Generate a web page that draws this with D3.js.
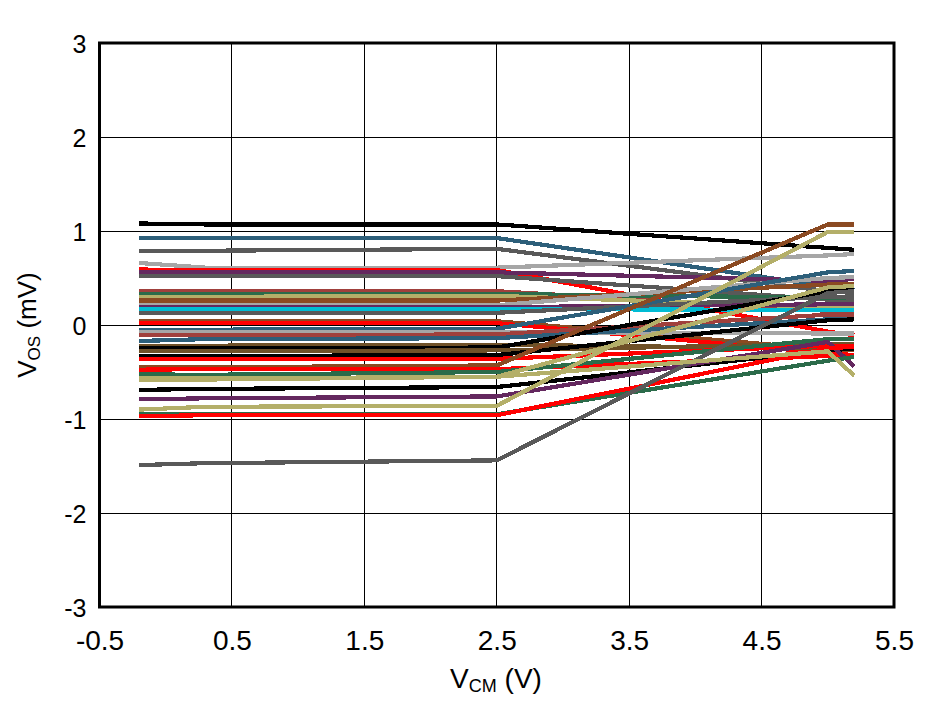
<!DOCTYPE html>
<html><head><meta charset="utf-8">
<script src="https://cdn.jsdelivr.net/npm/d3@7"></script>
<style>body{margin:0;background:#fff;} svg{display:block;}</style>
</head><body>
<svg id="chart" width="938" height="701"></svg>
<script>
// Common-mode voltage sample points (V)
const vcmPoints = [-0.2, 0.3, 2.5, 5.0, 5.2];
// VOS (mV) of each unit at each VCM sample point
const vosAtM02 = [1.08, 0.925, 0.79, 0.66, 0.59, 0.56, 0.52, 0.36, 0.33, 0.30, 0.26, 0.21, 0.19, 0.17, 0.13, 0.04, 0.02, -0.05, -0.08, -0.11, -0.17, -0.22, -0.245, -0.28, -0.33, -0.36, -0.45, -0.475, -0.525, -0.58, -0.69, -0.79, -0.90, -0.95, -0.97, -1.49, -0.57];
const vosAt03  = [1.07, 0.925, 0.79, 0.61, 0.585, 0.56, 0.52, 0.36, 0.33, 0.30, 0.26, 0.21, 0.19, 0.17, 0.13, 0.04, 0.02, -0.05, -0.08, -0.11, -0.15, -0.22, -0.245, -0.28, -0.33, -0.36, -0.45, -0.47, -0.53, -0.58, -0.68, -0.78, -0.87, -0.95, -0.96, -1.47, -0.57];
const vosAt25  = [1.07, 0.925, 0.81, 0.61, 0.585, 0.56, 0.52, 0.36, 0.33, 0.31, 0.26, 0.21, 0.19, 0.17, 0.13, 0.04, 0.02, -0.04, -0.08, -0.10, -0.14, -0.21, -0.24, -0.27, -0.32, -0.36, -0.43, -0.47, -0.50, -0.55, -0.66, -0.76, -0.86, -0.95, -0.96, -1.44, -0.55];
const vosAt50  = [0.82, 0.41, 0.36, 0.74, -0.07, 0.47, 0.27, 0.15, 0.29, 0.19, 0.43, 0.50, 0.22, 0.16, 0.30, -0.26, -0.30, 0.56, -0.09, 0.11, 0.06, -0.25, 0.36, -0.20, 0.05, -0.22, 1.07, -0.33, -0.15, 0.40, -0.27, -0.18, 0.99, -0.38, -0.25, 0.34, -0.28];
const vosAt52  = [0.80, 0.37, 0.34, 0.755, -0.11, 0.49, 0.26, 0.14, 0.295, 0.19, 0.44, 0.51, 0.22, 0.16, 0.30, -0.27, -0.32, 0.575, -0.09, 0.11, 0.06, -0.25, 0.37, -0.20, 0.06, -0.23, 1.07, -0.34, -0.15, 0.415, -0.25, -0.44, 0.99, -0.34, -0.23, 0.36, -0.54];
const lineColors = ["#000000","#2D5F7A","#595959","#A6A6A6","#FF0000","#64285F","#595959","#A0403C","#2B6B4A","#B4AF69","#8B4A22","#A6A6A6","#64285F","#00BCD4","#595959","#8B4A22","#FF0000","#2D5F7A","#A6A6A6","#A0403C","#2D5F7A","#6F5128","#000000","#6F5128","#000000","#FF0000","#8B4A22","#FF0000","#2B6B4A","#B4AF69","#000000","#64285F","#B4AF69","#2B6B4A","#FF0000","#595959","#B4AF69"];
const xTicks = [-0.5, 0.5, 1.5, 2.5, 3.5, 4.5, 5.5];
const yTicks = [-3, -2, -1, 0, 1, 2, 3];

const svg = d3.select("#chart");
const x = d3.scaleLinear().domain([-0.5, 5.5]).range([99.5, 894]);
const y = d3.scaleLinear().domain([-3, 3]).range([607, 43]);

// gridlines
svg.append("g").selectAll("line").data(xTicks).join("line")
  .attr("x1", d => x(d)).attr("x2", d => x(d)).attr("y1", y(3)).attr("y2", y(-3))
  .attr("stroke", "#000").attr("stroke-width", 1).attr("shape-rendering", "crispEdges");
svg.append("g").selectAll("line").data(yTicks).join("line")
  .attr("x1", x(-0.5)).attr("x2", x(5.5)).attr("y1", d => y(d)).attr("y2", d => y(d))
  .attr("stroke", "#000").attr("stroke-width", 1).attr("shape-rendering", "crispEdges");

// series
const series = lineColors.map((c, i) => ({
  color: c,
  pts: [vosAtM02[i], vosAt03[i], vosAt25[i], vosAt50[i], vosAt52[i]].map((v, j) => [vcmPoints[j], v])
}));
const line = d3.line().x(d => x(d[0])).y(d => y(d[1]));
svg.append("g").selectAll("path").data(series).join("path")
  .attr("d", d => line(d.pts)).attr("fill", "none")
  .attr("stroke", d => d.color).attr("stroke-width", 4.2)
  .attr("stroke-linejoin", "miter").attr("shape-rendering", "crispEdges");

// frame
svg.append("rect").attr("x", x(-0.5)).attr("y", y(3)).attr("width", x(5.5) - x(-0.5)).attr("height", y(-3) - y(3))
  .attr("fill", "none").attr("stroke", "#000").attr("stroke-width", 3);

const fmtX = d => (d < 0 ? "-" : "") + d3.format(".1f")(Math.abs(d));
// axes (labels only)
const xAxis = d3.axisBottom(x).tickValues(xTicks).tickSize(0).tickPadding(0).tickFormat(fmtX);
const gx = svg.append("g").attr("transform", `translate(0,${y(-3)})`).call(xAxis);
gx.select(".domain").remove();
gx.selectAll("text").attr("dy", null).attr("y", 42.5)
  .style("font-family", "'Liberation Sans', Arial, sans-serif")
  .style("font-size", "28px").attr("fill", "#000");

const yAxis = d3.axisLeft(y).tickValues(yTicks).tickSize(0).tickPadding(0).tickFormat(d => d < 0 ? "-" + Math.abs(d) : String(d));
const gy = svg.append("g").attr("transform", `translate(${x(-0.5)},0)`).call(yAxis);
gy.select(".domain").remove();
gy.selectAll("text").attr("dy", null).attr("x", -13).attr("y", 9)
  .style("font-family", "'Liberation Sans', Arial, sans-serif")
  .style("font-size", "25px").attr("fill", "#000");

// axis titles
const xt = svg.append("text").attr("x", 496).attr("y", 688).attr("text-anchor", "middle")
  .style("font-family", "'Liberation Sans', Arial, sans-serif").style("font-size", "28px");
xt.append("tspan").text("V");
xt.append("tspan").attr("dy", 4).style("font-size", "18px").text("CM");
xt.append("tspan").attr("dy", -4).text(" (V)");

const yt = svg.append("text").attr("transform", "translate(36,325) rotate(-90)").attr("text-anchor", "middle")
  .style("font-family", "'Liberation Sans', Arial, sans-serif").style("font-size", "26px");
yt.append("tspan").text("V");
yt.append("tspan").attr("dy", 4).style("font-size", "17px").text("OS");
yt.append("tspan").attr("dy", -4).text(" (mV)");
</script>
</body></html>
